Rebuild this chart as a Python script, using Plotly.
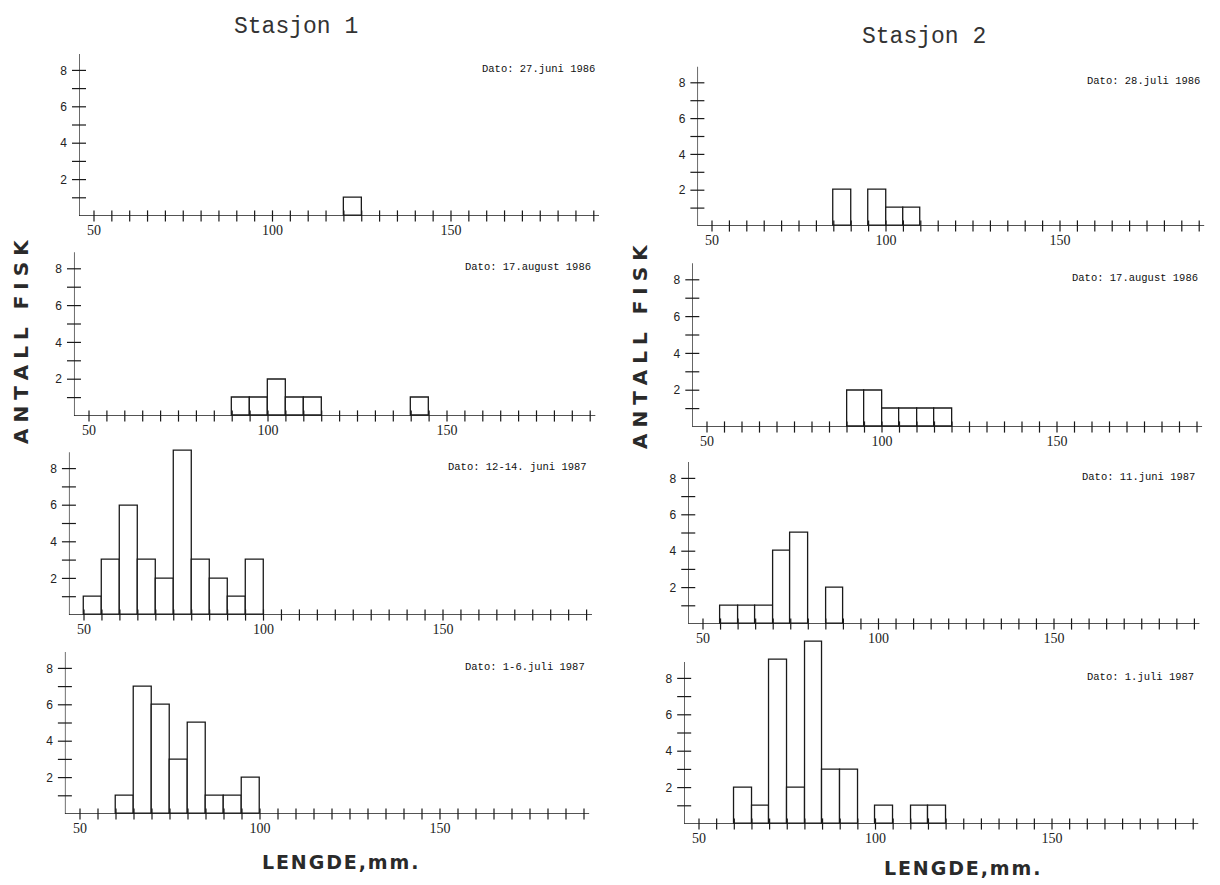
import plotly.graph_objects as go

# ---- data: fish length classes (lower bound of 5 mm class) and counts ----
TITLES = ["Stasjon 1", "Stasjon 2"]
XTICK_LABELS = [50, 100, 150]
YTICK_LABELS = [2, 4, 6, 8]

S1_JUN86_DATE = "Dato: 27.juni 1986"
S1_JUN86_LEN = [120]
S1_JUN86_N = [1]

S1_AUG86_DATE = "Dato: 17.august 1986"
S1_AUG86_LEN = [90, 95, 100, 105, 110, 140]
S1_AUG86_N = [1, 1, 2, 1, 1, 1]

S1_JUN87_DATE = "Dato: 12-14. juni 1987"
S1_JUN87_LEN = [50, 55, 60, 65, 70, 75, 80, 85, 90, 95]
S1_JUN87_N = [1, 3, 6, 3, 2, 9, 3, 2, 1, 3]

S1_JUL87_DATE = "Dato: 1-6.juli 1987"
S1_JUL87_LEN = [60, 65, 70, 75, 80, 85, 90, 95]
S1_JUL87_N = [1, 7, 6, 3, 5, 1, 1, 2]

S2_JUL86_DATE = "Dato: 28.juli 1986"
S2_JUL86_LEN = [85, 95, 100, 105]
S2_JUL86_N = [2, 2, 1, 1]

S2_AUG86_DATE = "Dato: 17.august 1986"
S2_AUG86_LEN = [90, 95, 100, 105, 110, 115]
S2_AUG86_N = [2, 2, 1, 1, 1, 1]

S2_JUN87_DATE = "Dato: 11.juni 1987"
S2_JUN87_LEN = [55, 60, 65, 70, 75, 85]
S2_JUN87_N = [1, 1, 1, 4, 5, 2]

S2_JUL87_DATE = "Dato: 1.juli 1987"
S2_JUL87_LEN = [60, 65, 70, 75, 80, 85, 90, 100, 110, 115]
S2_JUL87_N = [2, 1, 9, 2, 10, 3, 3, 1, 1, 1]

CLASS_WIDTH = 5
X_TICKS = list(range(50, 195, 5))
Y_TICKS = list(range(1, 9))

# ---- layout geometry ----
W, H = 1220, 885
XMIN, XMAX = 45.8, 191.5
YTOP_AXIS = 8.9
YMAX = 10.4
INK = "#1a1a1a"

panels = [
    # (date, lengths, counts, px of 50 mm, px per mm, px of zero line, px per fish)
    (S1_JUN86_DATE, S1_JUN86_LEN, S1_JUN86_N, 94, 3.57, 216, 18.2),
    (S1_AUG86_DATE, S1_AUG86_LEN, S1_AUG86_N, 89, 3.58, 416, 18.4),
    (S1_JUN87_DATE, S1_JUN87_LEN, S1_JUN87_N, 84, 3.59, 615, 18.3),
    (S1_JUL87_DATE, S1_JUL87_LEN, S1_JUL87_N, 80, 3.60, 814, 18.2),
    (S2_JUL86_DATE, S2_JUL86_LEN, S2_JUL86_N, 712, 3.48, 226, 17.9),
    (S2_AUG86_DATE, S2_AUG86_LEN, S2_AUG86_N, 707, 3.50, 427, 18.4),
    (S2_JUN87_DATE, S2_JUN87_LEN, S2_JUN87_N, 703, 3.51, 624, 18.2),
    (S2_JUL87_DATE, S2_JUL87_LEN, S2_JUL87_N, 699, 3.53, 824, 18.2),
]

fig = go.Figure()
annotations = []
shapes = []

for i, (date, lens, counts, p50, sx, py0, sy) in enumerate(panels, start=1):
    xa = "x" if i == 1 else f"x{i}"
    ya = "y" if i == 1 else f"y{i}"
    centers = [v + CLASS_WIDTH / 2 for v in lens]

    fig.add_trace(go.Bar(
        x=centers, y=counts, width=CLASS_WIDTH,
        marker=dict(color="white", line=dict(color=INK, width=1.3)),
        xaxis=xa, yaxis=ya, showlegend=False, hoverinfo="x+y",
    ))
    # crossing tick marks on the length axis
    fig.add_trace(go.Scatter(
        x=X_TICKS, y=[0] * len(X_TICKS), mode="markers",
        marker=dict(symbol="line-ns", size=8, line=dict(color=INK, width=1.2)),
        xaxis=xa, yaxis=ya, showlegend=False, hoverinfo="skip", cliponaxis=False,
    ))
    # crossing tick marks on the count axis
    fig.add_trace(go.Scatter(
        x=[XMIN] * len(Y_TICKS), y=Y_TICKS, mode="markers",
        marker=dict(symbol="line-ew", size=10, line=dict(color=INK, width=1.2)),
        xaxis=xa, yaxis=ya, showlegend=False, hoverinfo="skip", cliponaxis=False,
    ))

    x0 = (p50 - (50 - XMIN) * sx) / W
    x1 = (p50 + (XMAX - 50) * sx) / W
    y0 = 1 - py0 / H
    y1 = 1 - (py0 - YMAX * sy) / H

    fig.layout[f"xaxis{'' if i == 1 else i}"] = dict(
        domain=[x0, x1], range=[XMIN, XMAX], anchor=ya,
        showline=False, showgrid=False, zeroline=False, ticks="",
        tickvals=XTICK_LABELS, ticklabelstandoff=4,
        tickfont=dict(family="Liberation Serif", size=14, color="#222"),
    )
    fig.layout[f"yaxis{'' if i == 1 else i}"] = dict(
        domain=[y0, y1], range=[0, YMAX], anchor=xa,
        showline=False, showgrid=False, zeroline=False, ticks="",
        tickvals=YTICK_LABELS, ticklabelstandoff=11,
        tickfont=dict(family="Liberation Sans", size=12, color="#222"),
    )
    # length axis line
    shapes.append(dict(
        type="line", xref=xa, yref=ya, x0=XMIN, x1=XMAX, y0=0, y1=0,
        line=dict(color=INK, width=1.3),
    ))
    # count axis line, stopping just above 8
    shapes.append(dict(
        type="line", xref=xa, yref=ya, x0=XMIN, x1=XMIN, y0=0, y1=YTOP_AXIS,
        line=dict(color=INK, width=1.3),
    ))
    annotations.append(dict(
        text=date, xref=f"{xa} domain", yref=ya, x=0.995, y=8.1,
        xanchor="right", yanchor="middle", showarrow=False,
        font=dict(family="Liberation Mono", size=10.5, color="#111"),
    ))

THIN = "\u2009\u200a"
HAIR = "\u200a"
ylabel = THIN.join("ANTALL") + THIN * 3 + THIN.join("FISK")
xlabel = HAIR.join("LENGDE,mm.")

for title, cx, cy in [(TITLES[0], 296, 27), (TITLES[1], 924, 37)]:
    annotations.append(dict(
        text=title, xref="paper", yref="paper", x=cx / W, y=1 - cy / H,
        xanchor="center", yanchor="middle", showarrow=False,
        font=dict(family="Liberation Mono", size=23, color="#333"),
    ))
for cx, cy in [(21, 342), (640, 347)]:
    annotations.append(dict(
        text=ylabel, xref="paper", yref="paper", x=cx / W, y=1 - cy / H,
        xanchor="center", yanchor="middle", showarrow=False, textangle=-90,
        font=dict(family="DejaVu Sans", size=20, color="#2a2a2a", weight="bold"),
    ))
for cx, cy in [(340, 862), (962, 868)]:
    annotations.append(dict(
        text=xlabel, xref="paper", yref="paper", x=cx / W, y=1 - cy / H,
        xanchor="center", yanchor="middle", showarrow=False,
        font=dict(family="DejaVu Sans", size=19, color="#2a2a2a", weight="bold"),
    ))

fig.update_layout(
    width=W, height=H,
    margin=dict(l=0, r=0, t=0, b=0),
    paper_bgcolor="white", plot_bgcolor="rgba(0,0,0,0)",
    bargap=0, annotations=annotations, shapes=shapes,
    showlegend=False,
)

fig.write_html("out.html")
